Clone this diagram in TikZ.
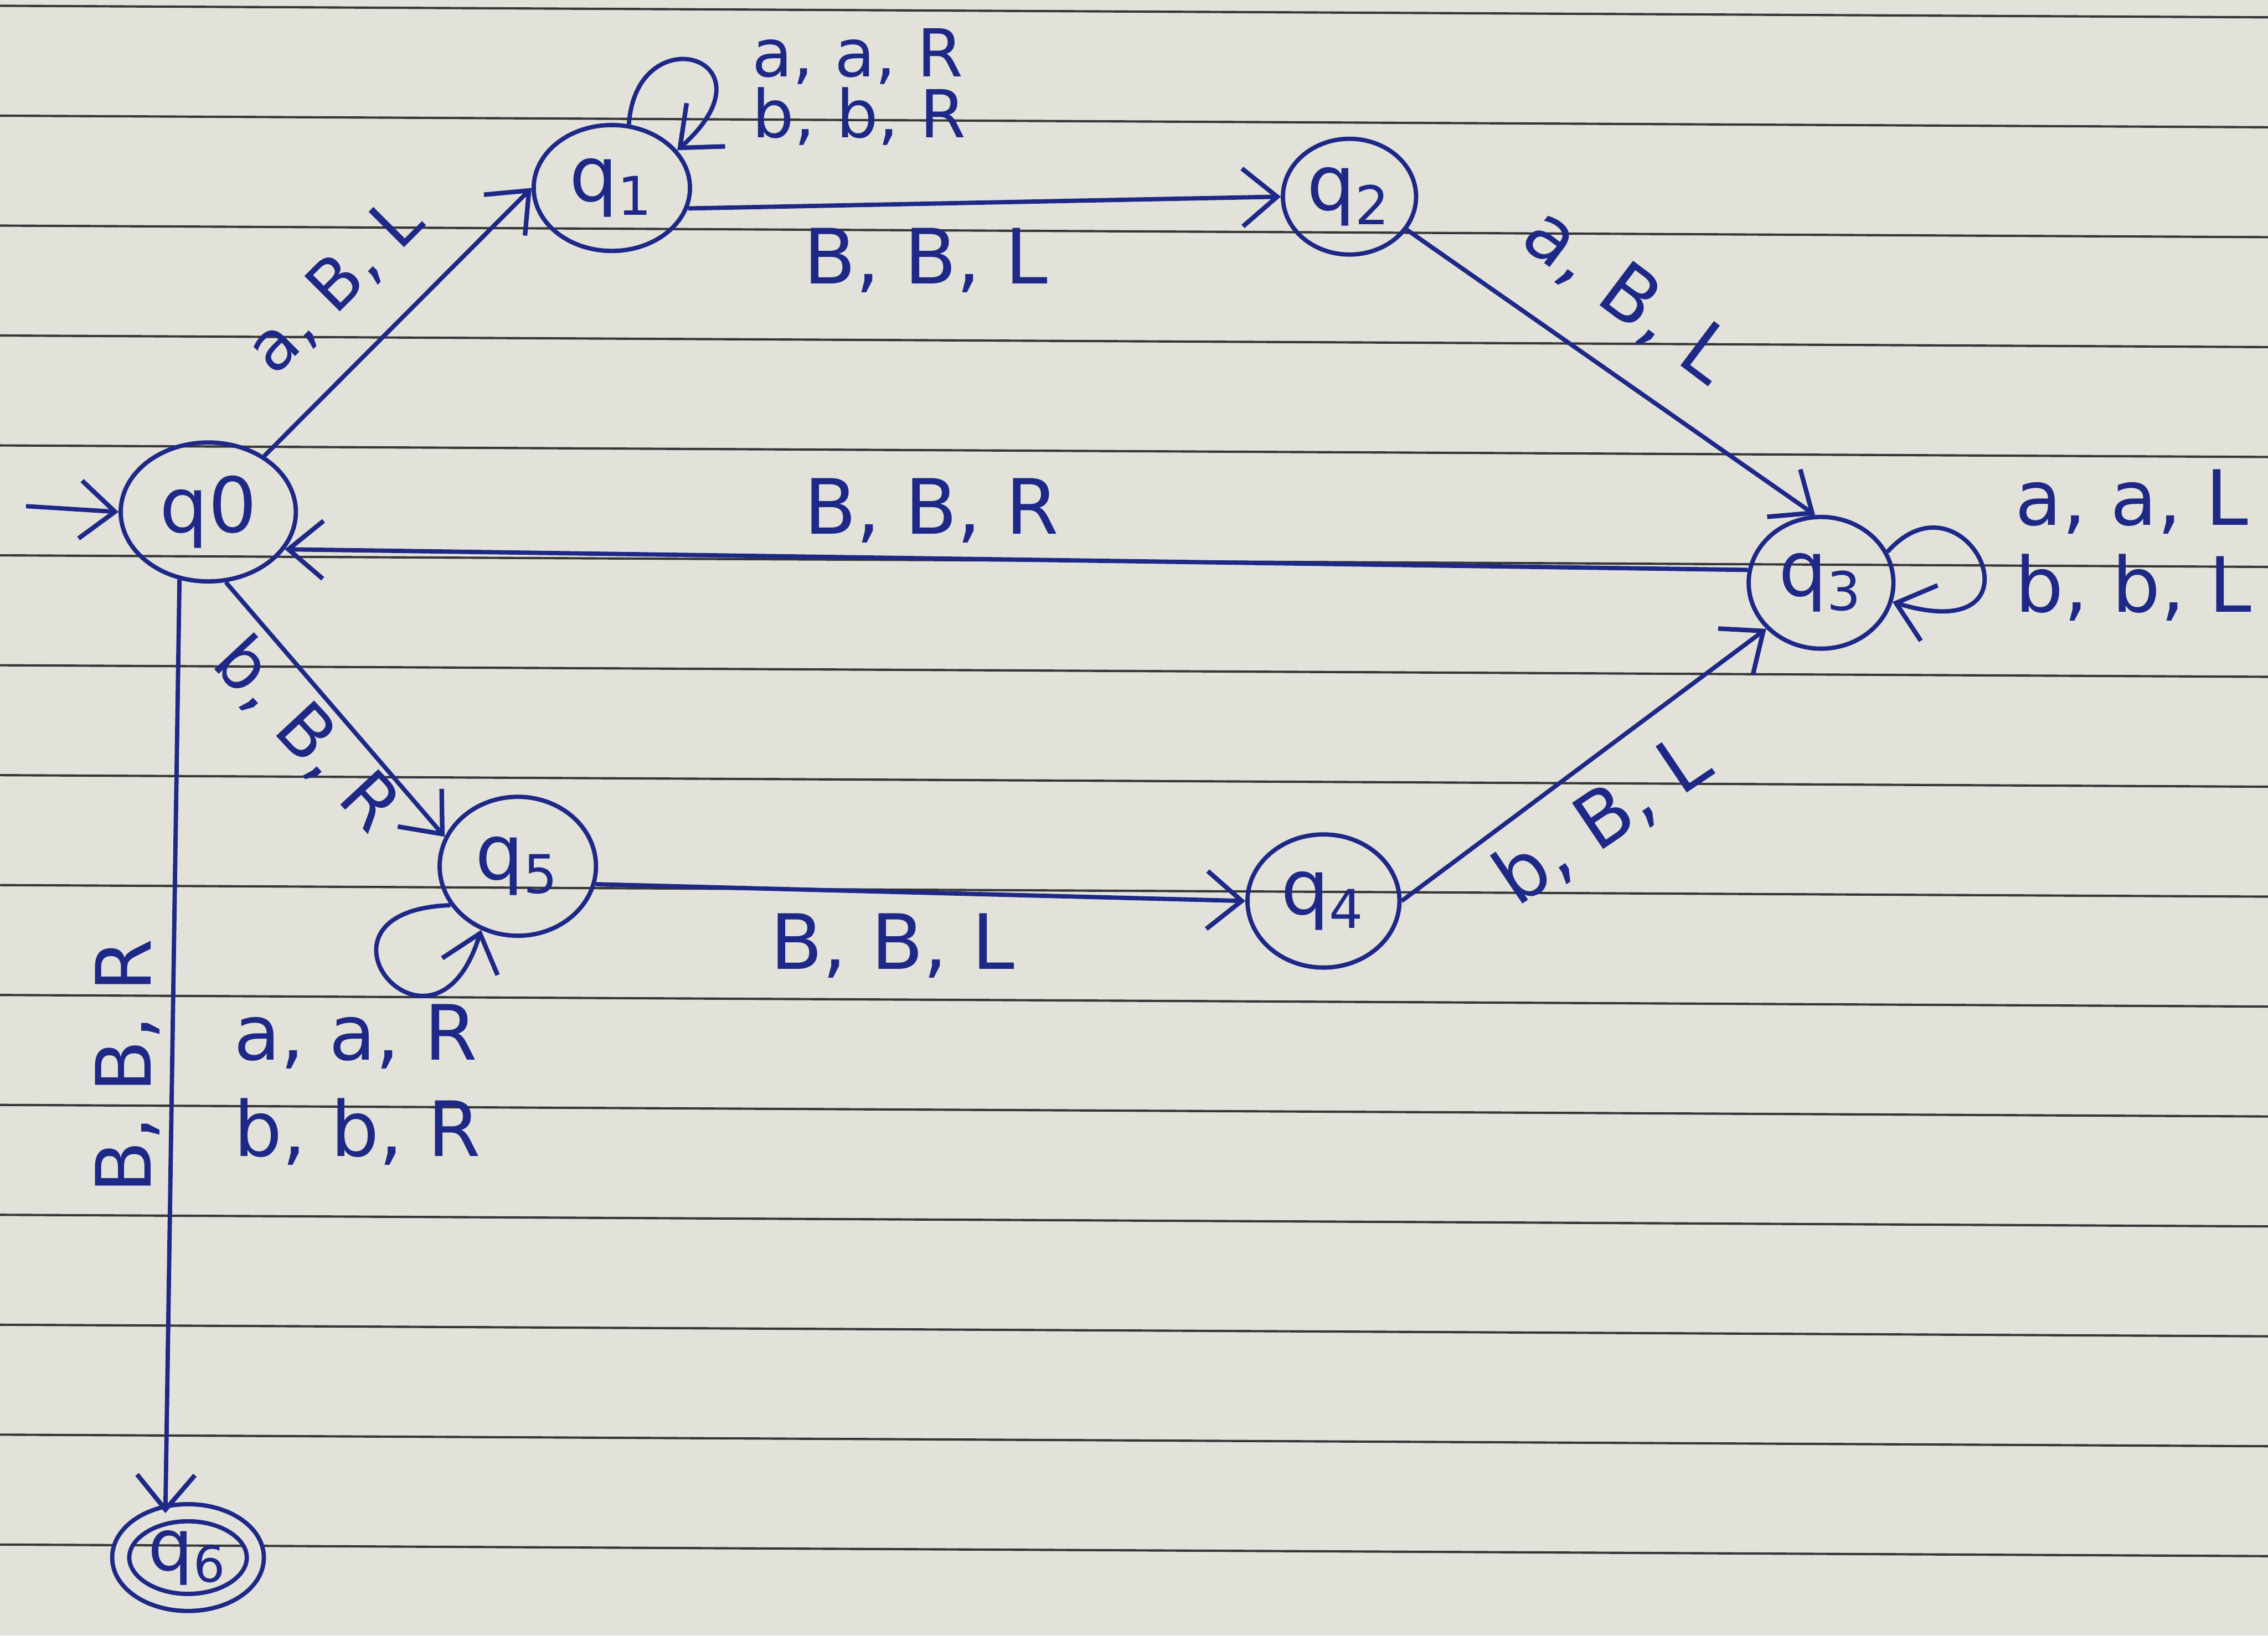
\documentclass[tikz,border=0pt]{standalone}
\usepackage{fontspec}
\setmainfont{DejaVu Sans}
\usetikzlibrary{shapes.geometric,arrows.meta}
\definecolor{ink}{RGB}{30,40,135}
\definecolor{paper}{RGB}{226,226,219}
\definecolor{rulecol}{RGB}{55,55,55}
\begin{document}
\begin{tikzpicture}[x=0.01cm,y=-0.01cm,
  st/.style={ellipse, draw=ink, line width=0.85pt, inner sep=0pt, text=ink,
    font=\fontsize{15}{18}\selectfont},
  lbl/.style={text=ink, font=\fontsize{15}{18}\selectfont, inner sep=0pt},
  tr/.style={draw=ink, line width=0.85pt,
    -{Straight Barb[length=2.4mm,width=4mm,line width=0.9pt]}},
  ruleline/.style={draw=rulecol, line width=0.45pt}]

\useasboundingbox (0,0) rectangle (1568,1131);
\fill[paper] (0,0) rectangle (1568,1131);
\foreach \k in {0,...,14} {
  \draw[ruleline] (0,{4+76*\k}) -- (1568,{12+76*\k});
}

% states
\node[st, minimum width=1.21cm, minimum height=0.96cm] (q0) at (144,354) {q0};
\node[st, minimum width=1.08cm, minimum height=0.87cm] (q1) at (423,130) {q\textsubscript{1}};
\node[st, minimum width=0.92cm, minimum height=0.80cm] (q2) at (933,136) {q\textsubscript{2}};
\node[st, minimum width=1.00cm, minimum height=0.91cm] (q3) at (1259,403) {q\textsubscript{3}};
\node[st, minimum width=1.05cm, minimum height=0.92cm] (q4) at (915,623) {q\textsubscript{4}};
\node[st, minimum width=1.08cm, minimum height=0.96cm] (q5) at (358,599) {q\textsubscript{5}};
\node[st, double=paper, double distance=2.5pt, minimum width=0.93cm, minimum height=0.62cm,
  font=\fontsize{14}{16}\selectfont] (q6) at (130,1077) {q\textsubscript{6}};

% initial arrow
\coordinate (start) at (18,350);
\draw[tr] (start) -- (q0.west);

% transitions
\draw[tr] (q0.45) -- (q1.west);
\draw[tr] (q1.-15) -- (q2.west);
\draw[tr] (q2.-30) -- (q3.95);
\draw[tr] (q3.170) -- (q0.-26);
\draw[tr] (q4.east) -- (q3.220);
\draw[tr] (q5.-13) -- (q4.west);
\draw[tr] (q0.-76) -- (q5.158);
\draw[tr] (q0.247) -- (q6.117);

% loops
\draw[tr] (q1.75) .. controls (440,10) and (540,40) .. (q1.30);
\draw[tr] (q3.25) .. controls (1360,320) and (1420,450) .. (q3.-15);
\draw[tr] (q5.210) .. controls (200,630) and (300,750) .. (q5.240);

% labels
\node[lbl, rotate=45, font=\fontsize{13.5}{16}\selectfont] (l01) at (232,198) {a, B, L};
\node[lbl] (l12) at (640,180) {B, B, L};
\node[lbl, rotate=-37] (l23) at (1125,205) {a, B, L};
\node[lbl] (l30) at (644,353) {B, B, R};
\node[lbl, rotate=34] (l43) at (1108,567) {b, B, L};
\node[lbl] (l54) at (617,654) {B, B, L};
\node[lbl, rotate=-47, font=\fontsize{14}{16}\selectfont] (l05) at (212,508) {b, B, R};
\node[lbl, rotate=90] (l06) at (88,737) {B, B, R};
\node[lbl, align=left, font=\fontsize{13}{12}\selectfont] (l11) at (594,60) {a, a, R\\b, b, R};
\node[lbl, align=left, font=\fontsize{15}{17}\selectfont] (l33) at (1475,377) {a, a, L\\b, b, L};
\node[lbl, align=left, font=\fontsize{15}{19}\selectfont] (l55) at (247,750) {a, a, R\\b, b, R};
\end{tikzpicture}
\end{document}
